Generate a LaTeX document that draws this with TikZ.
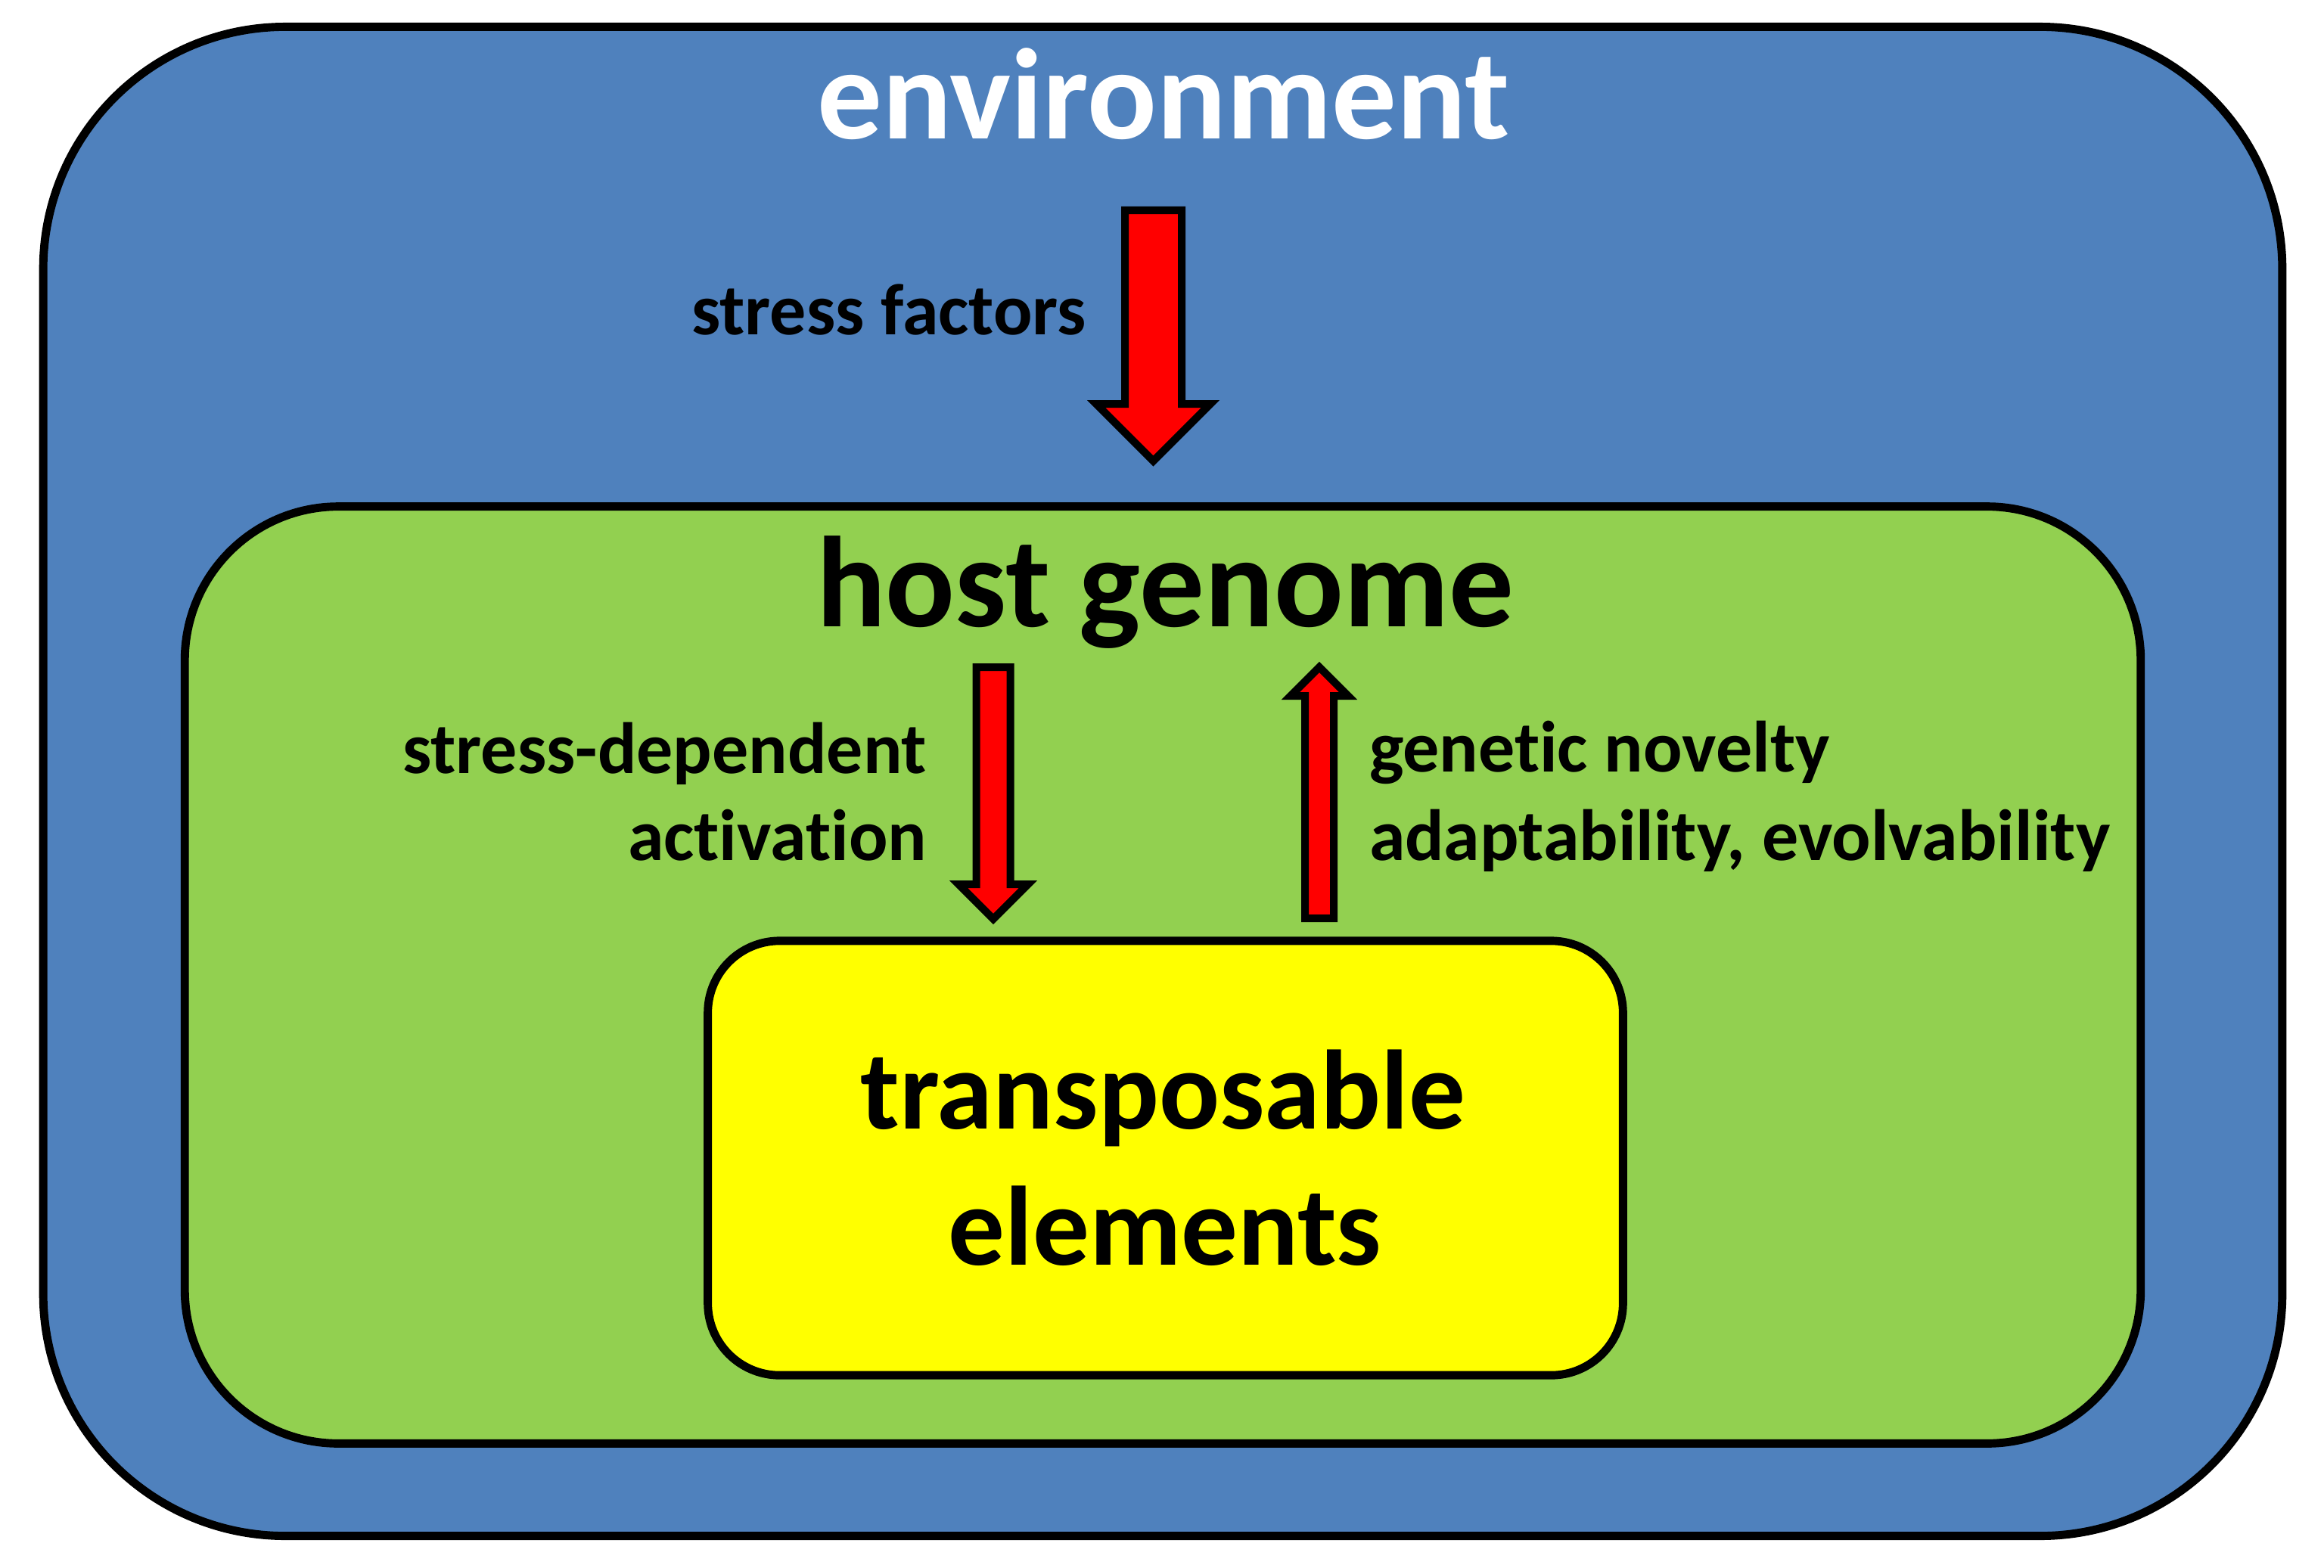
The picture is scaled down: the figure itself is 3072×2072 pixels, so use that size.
\documentclass[tikz,border=0pt]{standalone}
\usepackage{fontspec}
\setmainfont{Carlito}[Ligatures=NoCommon]
\begin{document}
\begin{tikzpicture}[x=0.01cm,y=-0.01cm]
\definecolor{envblue}{HTML}{4F81BD}
\definecolor{hostgreen}{HTML}{92D050}
\definecolor{teyellow}{HTML}{FFFF00}
\tikzset{
  box/.style={draw=black,line width=3.1pt,inner sep=0pt,outer sep=0pt,rectangle},
  blockarrow/.style={fill=red,draw=black,line width=2.85pt,line join=miter,miter limit=10},
  txt/.style={inner sep=0pt,outer sep=0pt},
  hugefont/.style={font=\bfseries\fontsize{48.6}{58}\selectfont},
  midfont/.style={font=\bfseries\fontsize{42.4}{50}\selectfont},
  smallfont/.style={font=\bfseries\fontsize{27.3}{33}\selectfont},
}
\path[use as bounding box] (0,0) rectangle (3072,2072);
% boxes
\node[box,fill=envblue,rounded corners=3.2cm,minimum width=29.58cm,minimum height=19.94cm] (env) at (1537,1033) {};
\node[box,fill=hostgreen,rounded corners=2.03cm,minimum width=25.84cm,minimum height=12.38cm] (host) at (1537,1289) {};
\node[box,fill=teyellow,rounded corners=0.95cm,minimum width=12.09cm,minimum height=5.74cm] (te) at (1540.5,1531) {};
% texts
\node[txt,hugefont,text=white,anchor=base] (envt) at (1538,183) {environment};
\node[txt,smallfont,anchor=base east] (sf) at (1436,442) {stress factors};
\node[txt,hugefont,anchor=base] (hg) at (1540,828) {host genome};
\node[txt,smallfont,anchor=base east] (sd1) at (1225,1022) {stress-dependent};
\node[txt,smallfont,anchor=base east] (sd2) at (1225,1137) {activation};
\node[txt,smallfont,anchor=base west] (gn1) at (1810,1020) {genetic novelty};
\node[txt,smallfont,anchor=base west] (gn2) at (1810,1137) {adaptability, evolvability};
\node[txt,midfont,anchor=base] (te1) at (1537,1492) {transposable};
\node[txt,midfont,anchor=base] (te2) at (1540,1672) {elements};
% block arrows
\draw[blockarrow] (1487,278) -- (1562,278) -- (1562,534) -- (1600,534) -- (1524.5,609.5) -- (1449,534) -- (1487,534) -- cycle;
\draw[blockarrow] (1290.5,882) -- (1335.5,882) -- (1335.5,1169) -- (1359,1169) -- (1313,1215) -- (1267,1169) -- (1290.5,1169) -- cycle;
\draw[blockarrow] (1725,1214) -- (1763,1214) -- (1763,920) -- (1782,920) -- (1744,882) -- (1706,920) -- (1725,920) -- cycle;
\end{tikzpicture}
\end{document}
